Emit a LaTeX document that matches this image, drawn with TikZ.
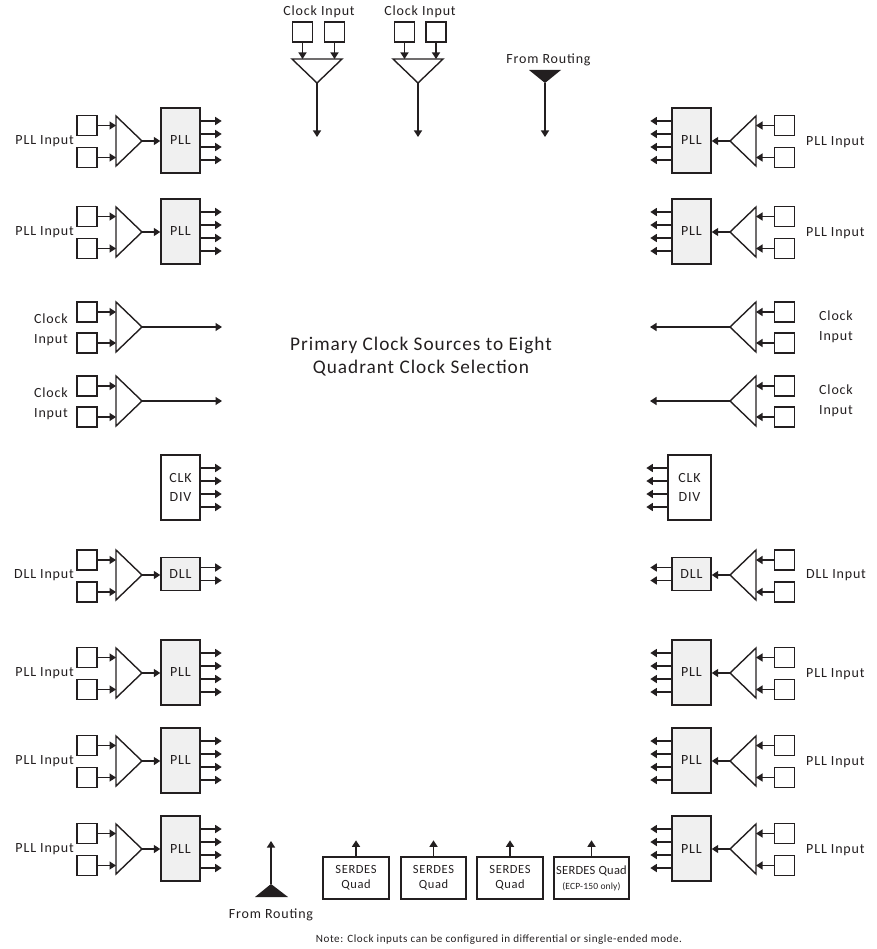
\documentclass[tikz,border=0pt]{standalone}
\usepackage{fontspec}
\setmainfont{Carlito}
\newfontfamily\lsfont[LetterSpace=6]{Carlito}
\newfontfamily\lsfontb[LetterSpace=5]{Carlito}
\newfontfamily\lsfontc[LetterSpace=2]{Carlito}
\usetikzlibrary{arrows.meta,calc}
\definecolor{pllgray}{RGB}{240,240,240}
\definecolor{ink}{RGB}{35,31,32}
\begin{document}
\begin{tikzpicture}[x=1pt,y=-1pt,
  lw/.style={line width=1.4pt,draw=ink},
  arr/.style={lw,-{Triangle[length=6.5pt,width=8pt]}},
  inbox/.style={draw=ink,line width=1.4pt,minimum width=20pt,minimum height=20pt,inner sep=0pt},
  pllbox/.style={draw=ink,line width=1.4pt,fill=pllgray,minimum width=39pt,minimum height=65pt,inner sep=0pt,text=ink,font=\lsfont\fontsize{14}{16}\selectfont},
  divbox/.style={draw=ink,line width=1.4pt,fill=white,minimum width=39pt,minimum height=65pt,inner sep=0pt,align=center,text=ink,font=\lsfont\fontsize{14}{19}\selectfont},
  dllbox/.style={pllbox,minimum height=33pt},
  sbox/.style={draw=ink,line width=1.4pt,minimum height=42pt,minimum width=66pt,inner sep=0pt,align=center,text=ink,font=\lsfontb\fontsize{12.5}{15}\selectfont},
  lbl/.style={text=ink,inner sep=0pt,font=\lsfont\fontsize{14}{20}\selectfont,align=center}
]
\useasboundingbox (0,0) rectangle (876,949);

% ---------- left PLL rows
\foreach \n/\c in {1/141,2/232,6/673,7/761,8/849}{
  \node[inbox] (lia\n) at (87,\c-15.5) {};
  \node[inbox] (lib\n) at (87,\c+16.5) {};
  \coordinate (lbase\n) at (116,\c);
  \coordinate (ltip\n) at (142,\c);
  \draw[lw] (116,\c-25) -- (ltip\n) -- (116,\c+25) -- cycle;
  \draw[arr] (lia\n.east) -- (lia\n.east -| lbase\n);
  \draw[arr] (lib\n.east) -- (lib\n.east -| lbase\n);
  \node[pllbox] (lpll\n) at (180.5,\c-0.5) {PLL};
  \draw[arr] (ltip\n) -- (ltip\n -| lpll\n.west);
  \foreach \s in {19.5,6.5,-6.5,-19.5}
    \draw[arr] ([yshift=\s pt]lpll\n.east) -- ++(21,0);
  \node[lbl,anchor=east] (llab\n) at (74,\c) {PLL Input};
}
% ---------- right PLL rows
\foreach \n/\c in {1/141,2/232,6/673,7/761,8/849}{
  \node[inbox] (ria\n) at (784.5,\c-15.5) {};
  \node[inbox] (rib\n) at (784.5,\c+16.5) {};
  \coordinate (rbase\n) at (756,\c);
  \coordinate (rtip\n) at (730,\c);
  \draw[lw] (756,\c-25) -- (rtip\n) -- (756,\c+25) -- cycle;
  \draw[arr] (ria\n.west) -- (ria\n.west -| rbase\n);
  \draw[arr] (rib\n.west) -- (rib\n.west -| rbase\n);
  \node[pllbox] (rpll\n) at (691.5,\c-0.5) {PLL};
  \draw[arr] (rtip\n) -- (rtip\n -| rpll\n.east);
  \foreach \s in {19.5,6.5,-6.5,-19.5}
    \draw[arr] ([yshift=\s pt]rpll\n.west) -- ++(-21,0);
  \node[lbl,anchor=west] (rlab\n) at (806,\c+1) {PLL Input};
}
% ---------- clock input rows
\foreach \n/\c in {3/327,4/401}{
  \node[inbox] (lia\n) at (87,\c-15) {};
  \node[inbox] (lib\n) at (87,\c+16) {};
  \coordinate (lbase\n) at (116,\c);
  \coordinate (ltip\n) at (142,\c);
  \coordinate (lend\n) at (222,\c);
  \draw[lw] (116,\c-25) -- (ltip\n) -- (116,\c+25) -- cycle;
  \draw[arr] (lia\n.east) -- (lia\n.east -| lbase\n);
  \draw[arr] (lib\n.east) -- (lib\n.east -| lbase\n);
  \draw[arr] (ltip\n) -- (lend\n);
  \node[lbl] (llab\n) at (51,\c+3) {Clock\\Input};
  \node[inbox] (ria\n) at (784.5,\c-15) {};
  \node[inbox] (rib\n) at (784.5,\c+16) {};
  \coordinate (rbase\n) at (756,\c);
  \coordinate (rtip\n) at (730,\c);
  \coordinate (rend\n) at (650,\c);
  \draw[lw] (756,\c-25) -- (rtip\n) -- (756,\c+25) -- cycle;
  \draw[arr] (ria\n.west) -- (ria\n.west -| rbase\n);
  \draw[arr] (rib\n.west) -- (rib\n.west -| rbase\n);
  \draw[arr] (rtip\n) -- (rend\n);
  \node[lbl] (rlab\n) at (836,\c) {Clock\\Input};
}
% ---------- CLK DIV
\node[divbox] (ldiv) at (180.5,487.5) {CLK\\DIV};
\foreach \s in {19.5,6.5,-6.5,-19.5}
  \draw[arr] ([yshift=\s pt]ldiv.east) -- ++(21,0);
\node[divbox,minimum width=43pt] (rdiv) at (689.5,487.5) {CLK\\DIV};
\foreach \s in {19.5,6.5,-6.5,-19.5}
  \draw[arr] ([yshift=\s pt]rdiv.west) -- ++(-21,0);
% ---------- DLL rows
\foreach \c in {575}{
  \node[inbox] (lia5) at (87,\c-15) {};
  \node[inbox] (lib5) at (87,\c+17) {};
  \coordinate (lbase5) at (116,\c);
  \coordinate (ltip5) at (142,\c);
  \draw[lw] (116,\c-25) -- (ltip5) -- (116,\c+25) -- cycle;
  \draw[arr] (lia5.east) -- (lia5.east -| lbase5);
  \draw[arr] (lib5.east) -- (lib5.east -| lbase5);
  \node[dllbox] (ldll) at (180.5,\c-1) {DLL};
  \draw[arr] (ltip5) -- (ltip5 -| ldll.west);
  \foreach \s in {6.5,-6.5}
    \draw[arr] ([yshift=\s pt]ldll.east) -- ++(21,0);
  \node[lbl,anchor=east] (llab5) at (74,\c) {DLL Input};
  \node[inbox] (ria5) at (784.5,\c-15) {};
  \node[inbox] (rib5) at (784.5,\c+17) {};
  \coordinate (rbase5) at (756,\c);
  \coordinate (rtip5) at (730,\c);
  \draw[lw] (756,\c-25) -- (rtip5) -- (756,\c+25) -- cycle;
  \draw[arr] (ria5.west) -- (ria5.west -| rbase5);
  \draw[arr] (rib5.west) -- (rib5.west -| rbase5);
  \node[dllbox] (rdll) at (691.5,\c-1) {DLL};
  \draw[arr] (rtip5) -- (rtip5 -| rdll.east);
  \foreach \s in {6.5,-6.5}
    \draw[arr] ([yshift=\s pt]rdll.west) -- ++(-21,0);
  \node[lbl,anchor=west] (rlab5) at (806,\c) {DLL Input};
}
% ---------- top clock inputs
\foreach \n/\x/\xa/\xb in {1/317/302.5/334.5, 2/418/404.5/436}{
  \node[lbl] (tlab\n) at (\x+2,12) {Clock Input};
  \node[inbox] (tia\n) at (\xa,32) {};
  \node[inbox] (tib\n) at (\xb,32) {};
  \coordinate (ttop\n) at (\x,59);
  \coordinate (ttip\n) at (\x,83);
  \coordinate (tout\n) at (\x,137);
  \draw[lw] (\x-25,59) -- (\x+25,59) -- (ttip\n) -- cycle;
  \draw[arr] (tia\n.south) -- (tia\n.south |- ttop\n);
  \draw[arr] (tib\n.south) -- (tib\n.south |- ttop\n);
  \draw[arr] (ttip\n) -- (tout\n);
}
% ---------- from routing (top)
\node[lbl] (trlab) at (548.5,60) {From Routing};
\coordinate (trtip) at (545,83);
\coordinate (trout) at (545,137);
\fill[ink] (529,70) -- (561,70) -- (trtip) -- cycle;
\draw[arr] (trtip) -- (trout);
% ---------- from routing (bottom)
\node[lbl] (brlab) at (271,915) {From Routing};
\coordinate (brtip) at (271,884);
\coordinate (brout) at (271,841);
\fill[ink] (255,897) -- (288,897) -- (brtip) -- cycle;
\draw[arr] (brtip) -- (brout);
% ---------- SERDES
\node[sbox] (s1) at (356,878) {SERDES\\Quad};
\node[sbox,minimum width=65pt] (s2) at (433.5,878) {SERDES\\Quad};
\node[sbox] (s3) at (510,878) {SERDES\\Quad};
\node[sbox,minimum width=75pt] (s4) at (591.5,878) {{\lsfontc SERDES Quad}\\{\lsfontc\fontsize{9.5}{11}\selectfont (ECP-150 only)}};
\foreach \b in {s1,s2,s3,s4}
  \draw[arr] (\b.north) -- ++(0,-16);
% ---------- center title
\node[text=ink,align=center,font=\lsfontb\fontsize{19.3}{23}\selectfont] (title) at (421,356.5) {Primary Clock Sources to Eight\\Quadrant Clock Selection};
% ---------- note
\node[text=ink,font=\lsfontb\fontsize{11.1}{12}\selectfont] (note) at (499,940) {Note: Clock inputs can be configured in differential or single-ended mode.};
\end{tikzpicture}
\end{document}
